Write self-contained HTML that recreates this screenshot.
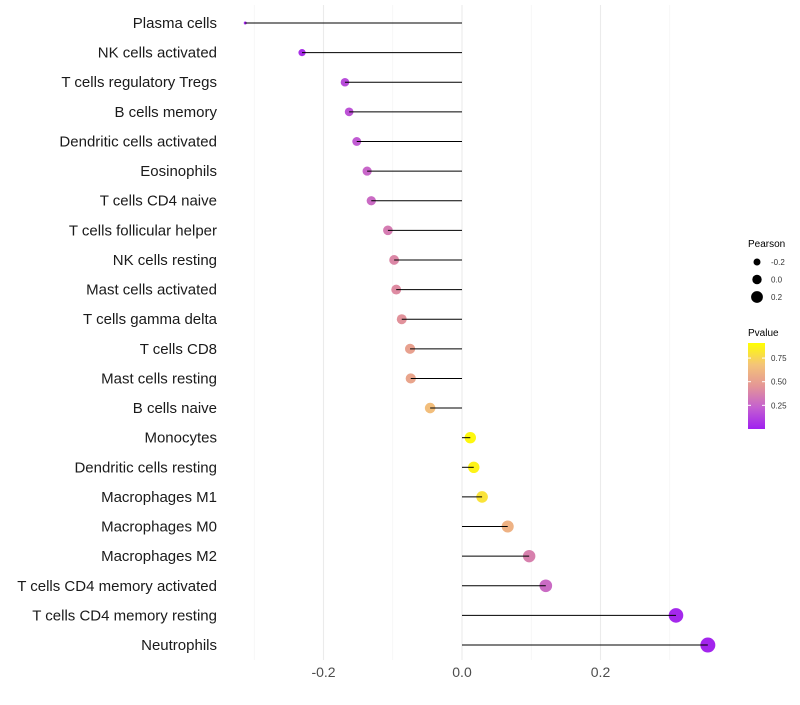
<!DOCTYPE html>
<html><head><meta charset="utf-8"><style>
body{margin:0;background:#fff;font-family:"Liberation Sans",sans-serif}
</style></head><body>
<svg id="c" width="800" height="700" xmlns="http://www.w3.org/2000/svg"></svg>
<script>
const categories=["Plasma cells","NK cells activated","T cells regulatory  Tregs ","B cells memory","Dendritic cells activated","Eosinophils","T cells CD4 naive","T cells follicular helper","NK cells resting","Mast cells activated","T cells gamma delta","T cells CD8","Mast cells resting","B cells naive","Monocytes","Dendritic cells resting","Macrophages M1","Macrophages M0","Macrophages M2","T cells CD4 memory activated","T cells CD4 memory resting","Neutrophils"];
const pearson=[-0.313,-0.231,-0.169,-0.163,-0.152,-0.137,-0.131,-0.107,-0.098,-0.095,-0.087,-0.075,-0.074,-0.046,0.012,0.017,0.029,0.066,0.097,0.121,0.309,0.355];
const pvalue=[0.02,0.06,0.17,0.2,0.23,0.28,0.3,0.38,0.43,0.45,0.48,0.56,0.58,0.72,0.97,0.95,0.88,0.65,0.4,0.3,0.03,0.02];
const xTicks=[-0.2,0.0,0.2];
const legendSizes=[-0.2,0.0,0.2];
const legendP=[0.25,0.50,0.75];
const NS="http://www.w3.org/2000/svg",svg=document.getElementById("c");
const x=v=>462+v*692.5, y=i=>23+i*29.62;
const r=v=>1.5+6*Math.sqrt(Math.max(0,v+0.313)/0.668);
const stops=[[0,[160,32,240]],[0.25,[196,96,208]],[0.5,[228,150,150]],[0.75,[244,196,120]],[1,[255,255,0]]];
function col(p){for(let k=1;k<stops.length;k++){if(p<=stops[k][0]){const a=stops[k-1],b=stops[k],t=(p-a[0])/(b[0]-a[0]);return "rgb("+a[1].map((c,j)=>Math.round(c+(b[1][j]-c)*t)).join(",")+")";}}return "rgb(255,255,0)";}
function el(t,a,parent){const e=document.createElementNS(NS,t);for(const k in a)e.setAttribute(k,a[k]);(parent||svg).appendChild(e);return e;}
[-0.3,-0.1,0.1,0.3].forEach(v=>{const l=el("line",{x1:x(v),x2:x(v),y1:5,y2:660,stroke:"#f3f3f3","stroke-width":0.6});});
xTicks.forEach(v=>{const l=el("line",{x1:x(v),x2:x(v),y1:5,y2:660,stroke:"#ebebeb","stroke-width":1.1});
const t=el("text",{x:x(v),y:677,"text-anchor":"middle","font-size":14,fill:"#4d4d4d"});t.textContent=v.toFixed(1);});
categories.forEach((c,i)=>{const t=el("text",{x:217,y:y(i)+5,"text-anchor":"end","font-size":15,fill:"#1a1a1a"});t.textContent=c;
const d=el("circle",{cx:x(pearson[i]),cy:y(i),r:r(pearson[i]),fill:col(pvalue[i])});
const l=el("line",{x1:x(0),x2:x(pearson[i]),y1:y(i),y2:y(i),stroke:"#000","stroke-width":1});});
const lt=el("text",{x:748,y:247,"font-size":10,fill:"#000"});lt.textContent="Pearson";
legendSizes.forEach((v,k)=>{const cy=262+k*17.5;const d=el("circle",{cx:757,cy:cy,r:3.5+k*1.2,fill:"#000"});
const t=el("text",{x:771,y:cy+3,"font-size":8,fill:"#333"});t.textContent=v.toFixed(1);});
const pt=el("text",{x:748,y:336,"font-size":10,fill:"#000"});pt.textContent="Pvalue";
const defs=el("defs",{});const g=el("linearGradient",{id:"g",x1:0,y1:1,x2:0,y2:0},defs);
stops.forEach(s=>el("stop",{offset:s[0],"stop-color":"rgb("+s[1].join(",")+")"},g));
const bar=el("rect",{x:748,y:343,width:17,height:86,fill:"url(#g)"});
const py=p=>428-(p-0.01)*(86/0.91);
legendP.forEach(p=>{el("line",{x1:748,x2:751,y1:py(p),y2:py(p),stroke:"#fff"});el("line",{x1:762,x2:765,y1:py(p),y2:py(p),stroke:"#fff"});
const t=el("text",{x:771,y:py(p)+3,"font-size":8,fill:"#333"});t.textContent=p.toFixed(2);});
</script>
</body></html>
